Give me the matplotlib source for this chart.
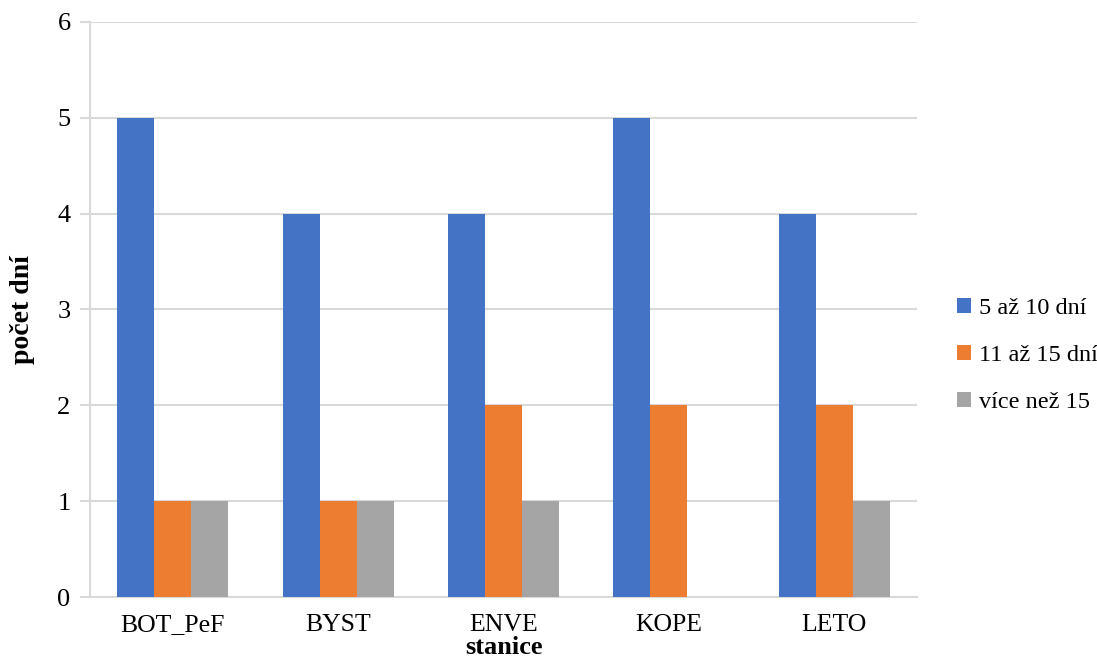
import numpy as np
import matplotlib
matplotlib.use('Agg')
from matplotlib import pyplot as plt

plt.rcParams['font.family'] = ['Liberation Serif', 'DejaVu Serif']

stations = ['BOT_PeF', 'BYST', 'ENVE', 'KOPE', 'LETO']
series_names = ['5 až 10 dní', '11 až 15 dní', 'více než 15']
d5_10 = [5, 4, 4, 5, 4]
d11_15 = [1, 1, 2, 2, 2]
d15_plus = [1, 1, 1, 0, 1]
colors = ['#4472C4', '#ED7D31', '#A5A5A5']

fig = plt.figure(figsize=(10.97, 6.59), dpi=100)
ax = fig.add_axes([0.082, 0.094, 0.754, 0.873])

x = np.arange(len(stations))
w = 0.224
for i, (vals, name, c) in enumerate(zip([d5_10, d11_15, d15_plus], series_names, colors)):
    ax.bar(x + (i - 1) * w, vals, w, color=c, label=name, zorder=3)

ax.set_xlim(-0.5, len(stations) - 0.5)
ax.set_ylim(0, 6)
ax.set_yticks(range(7))
ax.set_xticks(x)
ax.set_xticklabels(stations)
ax.grid(axis='y', color='#D9D9D9', linewidth=1.5, zorder=0)
for s in ['top', 'right']:
    ax.spines[s].set_visible(False)
for s in ['left', 'bottom']:
    ax.spines[s].set_color('#D9D9D9')
    ax.spines[s].set_linewidth(1.5)
ax.tick_params(axis='y', length=7, color='#D9D9D9', width=1.5, labelsize=19, pad=7)
ax.tick_params(axis='x', length=0, labelsize=18.5, pad=12)
ax.set_ylabel('počet dní', fontsize=20, fontweight='bold', labelpad=16)
ax.set_xlabel('stanice', fontsize=19, fontweight='bold', labelpad=0)

ax.legend(loc='center left', bbox_to_anchor=(1.048, 0.42), frameon=False, fontsize=17.5,
          borderaxespad=0, borderpad=0,
          handlelength=0.6, handleheight=0.6, handletextpad=0.3, labelspacing=1.05)

fig.savefig('out.png', dpi=100)
